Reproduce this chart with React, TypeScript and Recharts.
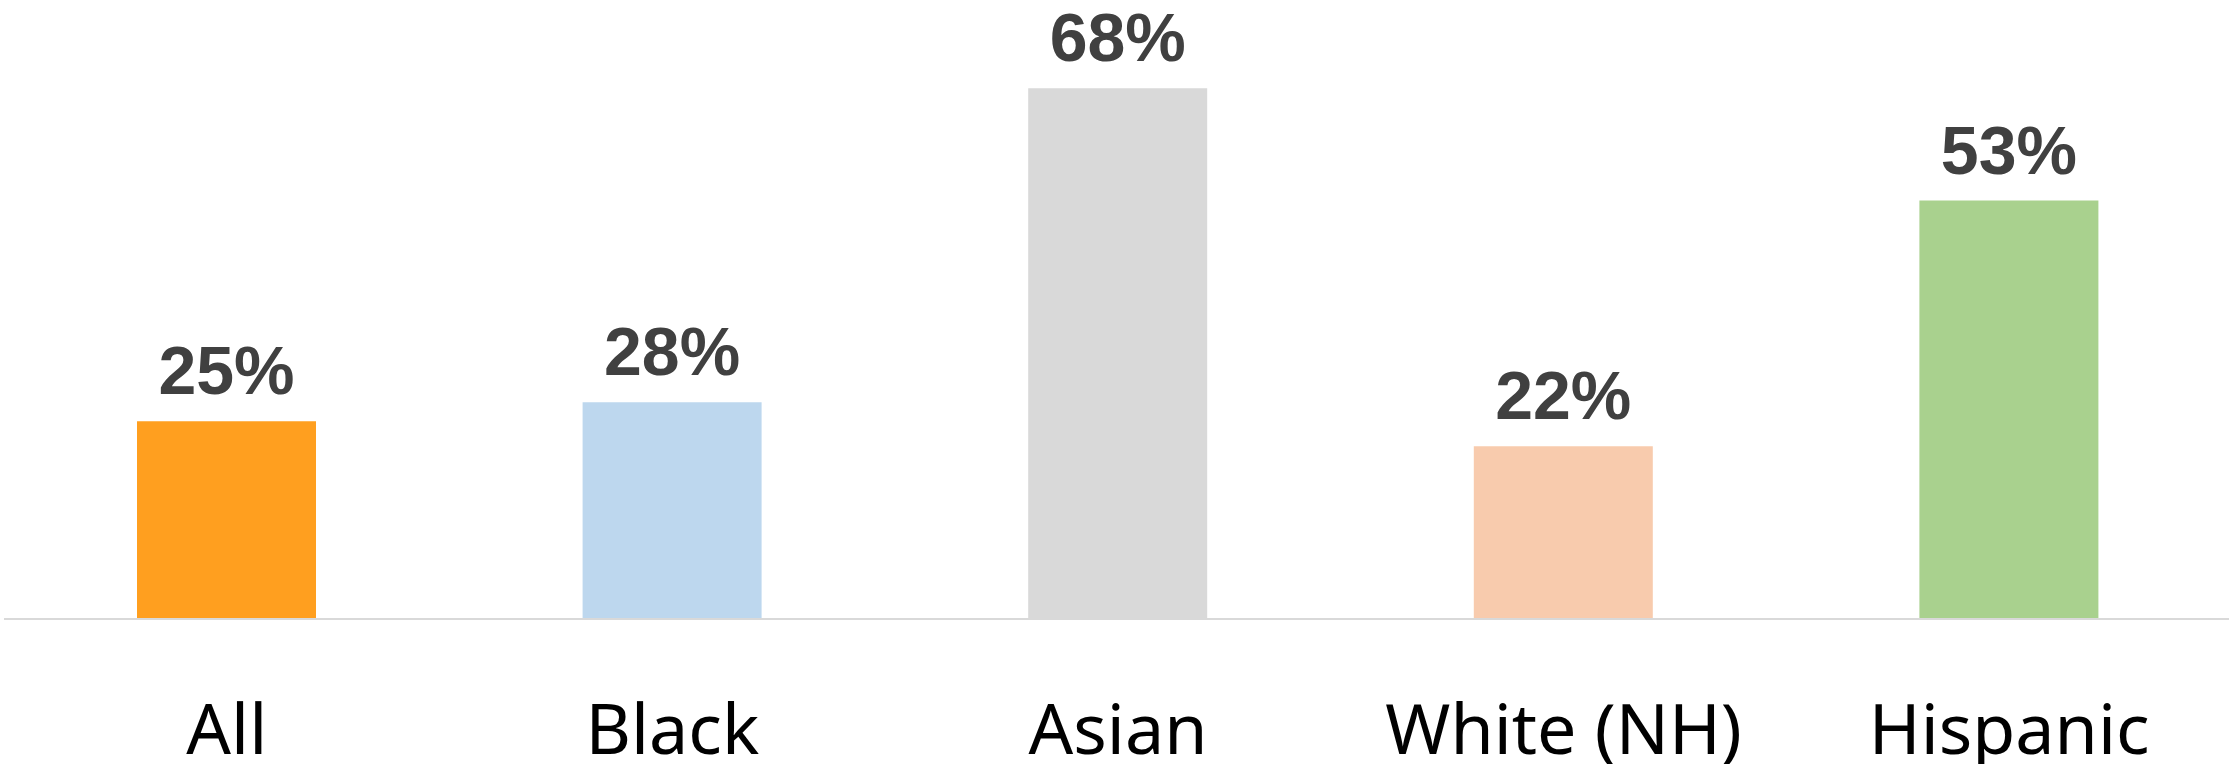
import React from "react";
import { BarChart, Bar, XAxis, YAxis, Cell, LabelList } from "recharts";

const categories = ["All", "Black", "Asian", "White (NH)", "Hispanic"];
const values = [25.2, 27.6, 67.6, 22.0, 53.3];
const colors = ["#FF9F1F", "#BDD7EE", "#D9D9D9", "#F8CBAD", "#A9D18E"];

const data = categories.map((name, i) => ({ name, value: values[i] }));

const CategoryTick = (props: any) => {
  const { x, y, payload } = props;
  return (
    <text
      x={x}
      y={y + 135}
      textAnchor="middle"
      fontFamily="'Noto Sans', sans-serif"
      fontSize={70}
      fill="#000000"
    >
      {payload.value}
    </text>
  );
};

export default function App() {
  return (
    <div
      style={{
        position: "absolute",
        left: 0,
        top: 0,
        width: 2229,
        height: 764,
        overflow: "hidden",
        background: "#ffffff",
      }}
    >
      <BarChart
        width={2240}
        height={764}
        data={data}
        margin={{ top: 69.5, right: 8, bottom: 0, left: 4 }}
        barCategoryGap={0}
      >
        <XAxis
          dataKey="name"
          height={145}
          tickLine={false}
          tickSize={0}
          tickMargin={0}
          axisLine={{ stroke: "#D9D9D9", strokeWidth: 2 }}
          tick={<CategoryTick />}
          interval={0}
        />
        <YAxis hide domain={[0, 70]} />
        <Bar dataKey="value" barSize={179} isAnimationActive={false}>
          {data.map((d, i) => (
            <Cell key={d.name} fill={colors[i]} />
          ))}
          <LabelList
            dataKey="value"
            position="top"
            offset={27}
            formatter={(v: any) => `${Math.round(Number(v))}%`}
            fill="#404040"
            fontSize={68}
            fontWeight="bold"
            fontFamily="'Liberation Sans', Arial, sans-serif"
          />
        </Bar>
      </BarChart>
    </div>
  );
}
